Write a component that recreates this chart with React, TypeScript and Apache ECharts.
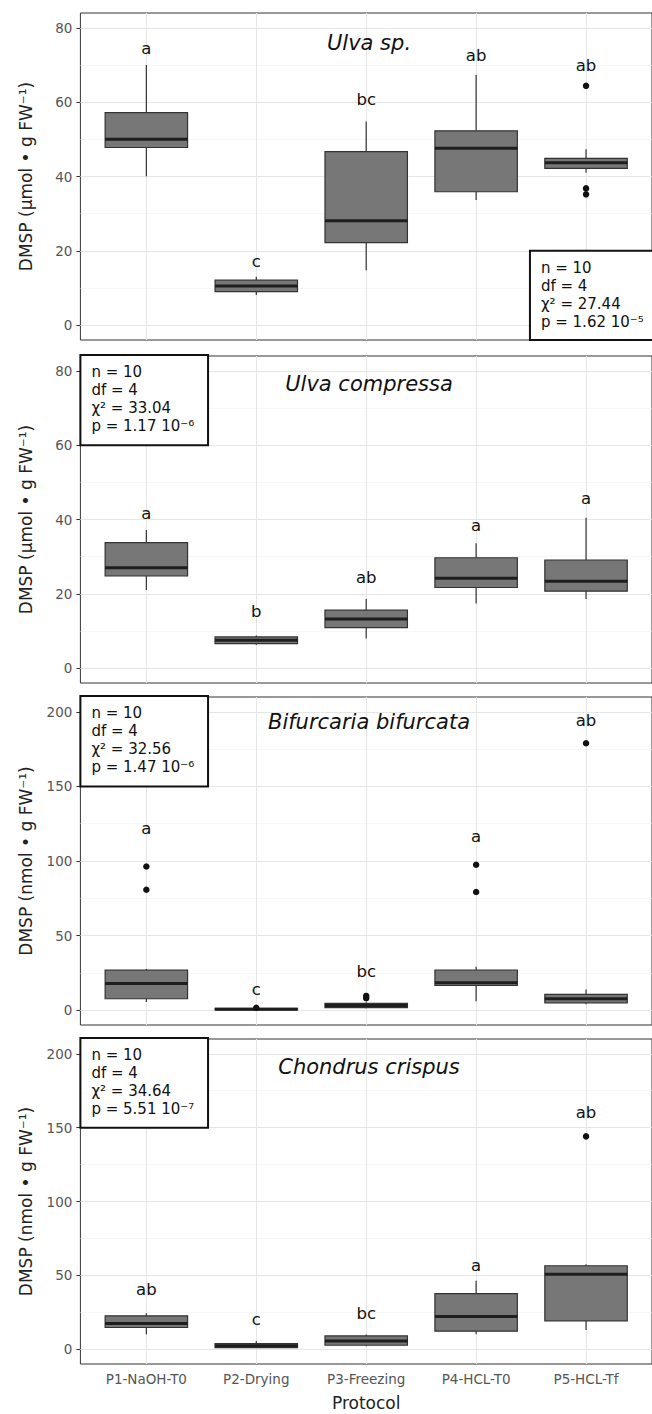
import React, { useEffect, useRef } from "react";
import * as echarts from "echarts";

const FONT = "DejaVu Sans";

const categories = ["P1-NaOH-T0", "P2-Drying", "P3-Freezing", "P4-HCL-T0", "P5-HCL-Tf"];

// each box: [lower whisker, Q1, median, Q3, upper whisker]
const ulvaSpBoxes = [
  [40.1, 47.8, 50.0, 57.2, 70.0],
  [8.1, 9.0, 10.5, 12.1, 13.0],
  [14.8, 22.2, 28.1, 46.7, 54.8],
  [33.7, 35.9, 47.6, 52.3, 67.3],
  [41.0, 42.2, 43.7, 44.9, 47.3],
];
const ulvaSpOutliers = [[5, 64.4], [5, 36.8], [5, 35.2]];
const ulvaSpLetters = ["a", "c", "bc", "ab", "ab"];
const ulvaSpLetterY = [74.5, 17, 60.6, 72.5, 70];

const ulvaCompressaBoxes = [
  [21.0, 24.8, 27.0, 33.8, 37.2],
  [6.3, 6.6, 7.5, 8.4, 8.8],
  [8.0, 10.9, 13.2, 15.6, 18.6],
  [17.4, 21.7, 24.2, 29.7, 33.6],
  [18.6, 20.7, 23.4, 29.1, 40.5],
];
const ulvaCompressaOutliers: number[][] = [];
const ulvaCompressaLetters = ["a", "b", "ab", "a", "a"];
const ulvaCompressaLetterY = [41.7, 15.2, 24.4, 38.5, 45.7];

const bifurcariaBoxes = [
  [5.4, 7.6, 17.9, 26.8, 27.5],
  [0.0, 0.2, 0.6, 1.2, 1.4],
  [1.2, 1.6, 3.1, 4.5, 5.2],
  [6.0, 16.5, 18.3, 26.9, 29.0],
  [4.0, 4.9, 7.6, 10.5, 13.8],
];
const bifurcariaOutliers = [[1, 96.3], [1, 80.7], [2, 1.6], [3, 9.5], [3, 8.0], [4, 97.5], [4, 79.2], [5, 179]];
const bifurcariaLetters = ["a", "c", "bc", "a", "ab"];
const bifurcariaLetterY = [121.5, 13.8, 26, 116.4, 194];

const chondrusBoxes = [
  [10.2, 14.7, 17.4, 22.6, 24.4],
  [0.8, 1.1, 2.3, 3.8, 5.6],
  [2.0, 2.7, 5.6, 9.0, 10.0],
  [10.2, 12.2, 22.1, 37.7, 46.3],
  [13.1, 19.2, 50.8, 56.5, 57.6],
];
const chondrusOutliers = [[5, 144.1]];
const chondrusLetters = ["ab", "c", "bc", "a", "ab"];
const chondrusLetterY = [40.7, 20.3, 24.4, 56.5, 160.4];

const panelTitles = ["Ulva sp.", "Ulva compressa", "Bifurcaria bifurcata", "Chondrus crispus"];
const yTitles = [
  "DMSP (µmol • g FW⁻¹)",
  "DMSP (µmol • g FW⁻¹)",
  "DMSP (nmol • g FW⁻¹)",
  "DMSP (nmol • g FW⁻¹)",
];
const statN = ["10", "10", "10", "10"];
const statDf = ["4", "4", "4", "4"];
const statChi = ["27.44", "33.04", "32.56", "34.64"];
const statP = ["1.62 10⁻⁵", "1.17 10⁻⁶", "1.47 10⁻⁶", "5.51 10⁻⁷"];

const yTicksSmall = [0, 20, 40, 60, 80];
const yMinorSmall = [10, 30, 50, 70];
const yTicksLarge = [0, 50, 100, 150, 200];
const yMinorLarge = [25, 75, 125, 175];
const xTicks = [1, 2, 3, 4, 5];

// layout
const LEFT = 80.4;
const PW = 577.2;
const XMIN = 0.4;
const XMAX = 5.6;
const tops = [13, 356, 697, 1039];
const heights = [327, 327, 328, 325];
const titleOffsets = [30, 28, 25, 28];

export default function App() {
  const ref = useRef<HTMLDivElement>(null);

  useEffect(() => {
    document.body.style.margin = "0";
    const chart = echarts.init(ref.current!, undefined, { renderer: "svg" });

    const panels = [
      { boxes: ulvaSpBoxes, out: ulvaSpOutliers, letters: ulvaSpLetters, ly: ulvaSpLetterY, min: -4, max: 84, ticks: yTicksSmall, minor: yMinorSmall },
      { boxes: ulvaCompressaBoxes, out: ulvaCompressaOutliers, letters: ulvaCompressaLetters, ly: ulvaCompressaLetterY, min: -4, max: 84, ticks: yTicksSmall, minor: yMinorSmall },
      { boxes: bifurcariaBoxes, out: bifurcariaOutliers, letters: bifurcariaLetters, ly: bifurcariaLetterY, min: -10, max: 210, ticks: yTicksLarge, minor: yMinorLarge },
      { boxes: chondrusBoxes, out: chondrusOutliers, letters: chondrusLetters, ly: chondrusLetterY, min: -10, max: 210, ticks: yTicksLarge, minor: yMinorLarge },
    ];

    const xPix = (v: number) => LEFT + ((v - XMIN) / (XMAX - XMIN)) * PW;
    const yPix = (p: number, v: number) =>
      tops[p] + heights[p] * (panels[p].max - v) / (panels[p].max - panels[p].min);

    const grid: any[] = [];
    const xAxis: any[] = [];
    const yAxis: any[] = [];
    const series: any[] = [];
    const graphic: any[] = [];

    panels.forEach((pn, i) => {
      const last = i === panels.length - 1;
      grid.push({
        left: LEFT, top: tops[i], width: PW, height: heights[i],
        show: true, borderColor: "#333", borderWidth: 1, backgroundColor: "#fff",
      });
      xAxis.push({
        type: "value", gridIndex: i, min: XMIN, max: XMAX,
        axisLine: { show: false },
        axisTick: { show: true, customValues: xTicks, length: 4, lineStyle: { color: "#333" } },
        axisLabel: {
          show: last, customValues: xTicks, margin: 8,
          formatter: (v: number) => categories[Math.round(v) - 1] || "",
          fontFamily: FONT, fontSize: 13.5, color: "#555",
        },
        splitLine: { show: false },
        name: last ? "Protocol" : "",
        nameLocation: "middle", nameGap: 30,
        nameTextStyle: { fontFamily: FONT, fontSize: 17, color: "#222" },
      });
      yAxis.push({
        type: "value", gridIndex: i, min: pn.min, max: pn.max,
        axisLine: { show: false },
        axisTick: { show: true, customValues: pn.ticks, length: 4, lineStyle: { color: "#333" } },
        axisLabel: { customValues: pn.ticks, margin: 8, fontFamily: FONT, fontSize: 13.5, color: "#555" },
        splitLine: { show: false },
        name: yTitles[i], nameLocation: "middle", nameGap: 46,
        nameTextStyle: { fontFamily: FONT, fontSize: 17, color: "#222" },
      });

      const gridLines = [
        ...pn.minor.map((v) => ({ yAxis: v, lineStyle: { color: "#f3f3f3", width: 0.7, type: "solid" } })),
        ...pn.ticks.map((v) => ({ yAxis: v, lineStyle: { color: "#e6e6e6", width: 1.1, type: "solid" } })),
        ...xTicks.map((v) => ({ xAxis: v, lineStyle: { color: "#e6e6e6", width: 1.1, type: "solid" } })),
      ];

      series.push({
        type: "custom",
        xAxisIndex: i, yAxisIndex: i,
        data: pn.boxes.map((b, k) => [k + 1, ...b]),
        encode: { x: 0, y: [1, 2, 3, 4, 5] },
        z: 3,
        renderItem: (params: any, api: any) => {
          const x = api.value(0);
          const lo = api.value(1), q1 = api.value(2), med = api.value(3), q3 = api.value(4), hi = api.value(5);
          const hw = 0.375;
          const tl = api.coord([x - hw, q3]);
          const br = api.coord([x + hw, q1]);
          const top = api.coord([x, hi]);
          const pq3 = api.coord([x, q3]);
          const pq1 = api.coord([x, q1]);
          const bot = api.coord([x, lo]);
          const ml = api.coord([x - hw, med]);
          const mr = api.coord([x + hw, med]);
          const ls = { stroke: "#333", lineWidth: 1.2 };
          return {
            type: "group",
            children: [
              { type: "line", shape: { x1: top[0], y1: top[1], x2: pq3[0], y2: pq3[1] }, style: ls },
              { type: "line", shape: { x1: pq1[0], y1: pq1[1], x2: bot[0], y2: bot[1] }, style: ls },
              {
                type: "rect",
                shape: { x: tl[0], y: tl[1], width: br[0] - tl[0], height: Math.max(br[1] - tl[1], 0.5) },
                style: { fill: "#777", stroke: "#333", lineWidth: 1.2 },
              },
              { type: "line", shape: { x1: ml[0], y1: ml[1], x2: mr[0], y2: mr[1] }, style: { stroke: "#1e1e1e", lineWidth: 3 } },
            ],
          };
        },
        markLine: {
          silent: true, symbol: ["none", "none"], z: 1,
          label: { show: false },
          data: gridLines,
        },
      });

      series.push({
        type: "scatter", xAxisIndex: i, yAxisIndex: i, z: 4,
        data: pn.out, symbolSize: 6.5, itemStyle: { color: "#111", opacity: 1 },
      });

      series.push({
        type: "scatter", xAxisIndex: i, yAxisIndex: i, z: 5,
        data: pn.letters.map((l, k) => [k + 1, pn.ly[k], l]),
        symbolSize: 1, itemStyle: { color: "rgba(0,0,0,0)", opacity: 1 },
        label: {
          show: true, position: "inside", opacity: 1,
          formatter: (p: any) => p.value[2],
          fontFamily: FONT, fontSize: 16.5, color: "#111",
          textBorderWidth: 0, textBorderColor: "transparent",
        },
      });

      // panel title
      graphic.push({
        type: "text", z: 50,
        x: xPix(3), y: tops[i] + titleOffsets[i],
        style: {
          text: panelTitles[i], textAlign: "center", textVerticalAlign: "middle",
          fontFamily: FONT, fontSize: 21, fontStyle: "italic", fill: "#111",
        },
      });

      // statistics box
      let bx: number, by: number, bw: number, bh: number;
      if (i === 0) {
        bx = xPix(4.45); by = yPix(0, 20); bw = 140; bh = tops[0] + heights[0] - by;
      } else {
        const lim = i === 1 ? 60 : 150;
        bx = LEFT; by = tops[i] - 1; bw = xPix(1.55) - LEFT; bh = yPix(i, lim) - by;
      }
      graphic.push({
        type: "rect", z: 60,
        shape: { x: bx, y: by, width: bw, height: bh },
        style: { fill: "#fff", stroke: "#111", lineWidth: 2 },
      });
      graphic.push({
        type: "text", z: 61,
        x: bx + 11, y: by + 8,
        style: {
          text: `n = ${statN[i]}\ndf = ${statDf[i]}\nχ² = ${statChi[i]}\np = ${statP[i]}`,
          textAlign: "left", textVerticalAlign: "top",
          fontFamily: FONT, fontSize: 15, lineHeight: 18, fill: "#111",
        },
      });
    });

    chart.setOption({
      animation: false,
      backgroundColor: "#fff",
      grid, xAxis, yAxis, series, graphic,
    });

    return () => chart.dispose();
  }, []);

  return <div ref={ref} style={{ width: 652, height: 1414 }} />;
}
